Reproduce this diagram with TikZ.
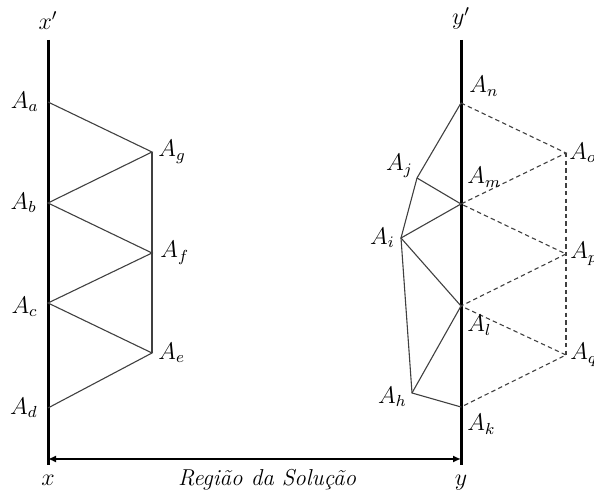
\documentclass[tikz,border=0pt]{standalone}
\usetikzlibrary{arrows.meta, positioning}
\begin{document}
\begin{tikzpicture}[x=0.5pt,y=-0.5pt,
  axis/.style={line width=1.5pt},
  link/.style={draw=black!75, line width=0.55pt},
  ghost/.style={link, dash pattern=on 2.2pt off 1.6pt},
  lbl/.style={inner sep=1pt, font=\fontsize{11.5}{13}\selectfont}]
\useasboundingbox (0,0) rectangle (594,490);
% the two walls
\coordinate (xt) at (48,40);  \coordinate (xb) at (48,465);
\coordinate (yt) at (461,40); \coordinate (yb) at (461,465);
\draw[axis] (xt) -- (xb);
\draw[axis] (yt) -- (yb);
\node[lbl, above=4pt of xt] (lxt) {$x'$};
\node[lbl, below=4pt of xb] (lxb) {$x$};
\node[lbl, above=4pt of yt] (lyt) {$y'$};
\node[lbl, below=4pt of yb] (lyb) {$y$};
% width of the region
\coordinate (al) at (48,459); \coordinate (ar) at (461,459);
\draw[{Latex[length=4pt,width=3.5pt]}-{Latex[length=4pt,width=3.5pt]}, line width=1.1pt] (al) -- (ar);
\node[lbl, anchor=base] (reg) at (267,486) {\textit{Região da Solução}};
% left side
\coordinate (Aa) at (48,102);  \coordinate (Ab) at (48,203);
\coordinate (Ac) at (48,303);  \coordinate (Ad) at (48,408);
\coordinate (Ag) at (152,152); \coordinate (Af) at (152,253);
\coordinate (Ae) at (152,353);
\draw[link] (Aa) -- (Ag) -- (Ab) -- (Af) -- (Ac) -- (Ae) -- (Ad);
\draw[link] (Ag) -- (Af) -- (Ae);
\node[lbl, left=3.5pt of Aa] (la) {$A_a$};
\node[lbl, left=4.5pt of Ab] (lb) {$A_b$};
\node[lbl, left=4pt of Ac, yshift=-2pt] (lc) {$A_c$};
\node[lbl, left=4pt of Ad] (ld) {$A_d$};
\node[lbl, right=2pt of Ag] (lg) {$A_g$};
\node[lbl, right=3pt of Af] (lf) {$A_f$};
\node[lbl, right=2pt of Ae] (le) {$A_e$};
% right side
\coordinate (An) at (461,103); \coordinate (Am) at (461,204);
\coordinate (Al) at (461,306); \coordinate (Ak) at (461,407);
\coordinate (Ao) at (566,153); \coordinate (Ap) at (566,254);
\coordinate (Aq) at (566,355);
\coordinate (Aj) at (417,178); \coordinate (Ai) at (401,238);
\coordinate (Ah) at (412,393);
\draw[ghost] (An) -- (Ao) -- (Am) -- (Ap) -- (Al) -- (Aq) -- (Ak);
\draw[ghost] (Ao) -- (Ap) -- (Aq);
\draw[link] (An) -- (Aj) -- (Ai) -- (Ah) -- (Ak);
\draw[link] (Aj) -- (Am) -- (Ai) -- (Al) -- (Ah);
\node[lbl, above right=2pt and 3pt of An] (ln) {$A_n$};
\node[lbl, above right=7pt and 2pt of Am] (lm) {$A_m$};
\node[lbl, below right=3.5pt and 2pt of Al] (ll) {$A_l$};
\node[lbl, below right=2.5pt and 2pt of Ak] (lk) {$A_k$};
\node[lbl, right=0.5pt of Ao] (lo) {$A_o$};
\node[lbl, right=1pt of Ap] (lp) {$A_p$};
\node[lbl, right=1pt of Aq] (lq) {$A_q$};
\node[lbl, above left=-1pt and 1pt of Aj] (lj) {$A_j$};
\node[lbl, left=2pt of Ai] (li) {$A_i$};
\node[lbl, left=1.5pt of Ah, yshift=-2pt] (lh) {$A_h$};
\end{tikzpicture}
\end{document}
